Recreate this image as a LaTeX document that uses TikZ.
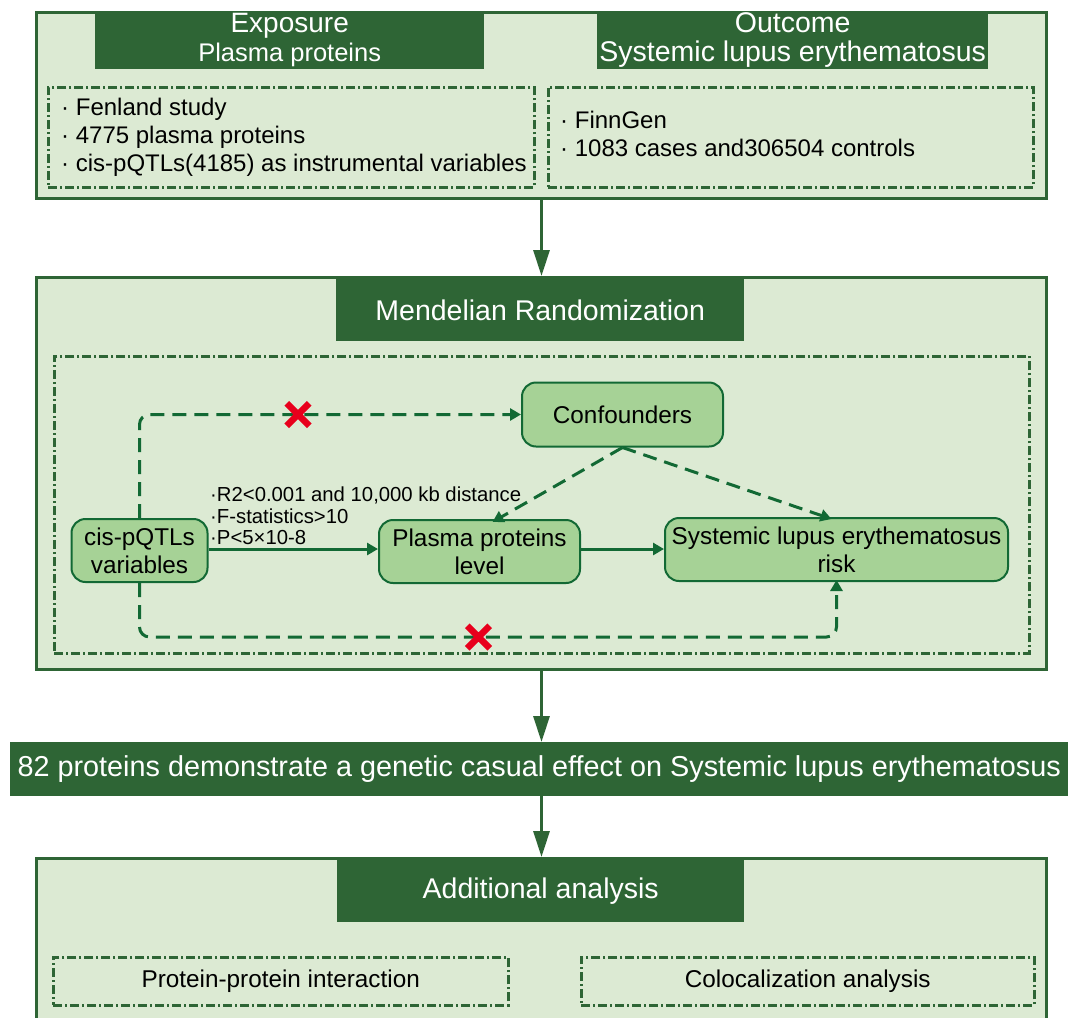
\documentclass[tikz,border=0pt]{standalone}
\usepackage{fontspec}
\setmainfont{Liberation Sans}
\usetikzlibrary{arrows.meta, shapes.misc, positioning}

\definecolor{headgreen}{HTML}{2E6535}
\definecolor{panelgreen}{HTML}{DCEAD3}
\definecolor{boxgreen}{HTML}{A6D296}
\definecolor{linkgreen}{HTML}{126934}
\definecolor{crossred}{HTML}{E8001C}

\newcommand{\fs}[1]{\fontsize{#1}{1.2\dimexpr#1pt\relax}\selectfont}

\tikzstyle{panel} = [draw=headgreen, fill=panelgreen, line width=3pt, minimum width=1010pt, anchor=north west, inner sep=0pt]
\tikzstyle{header} = [fill=headgreen, text=white, inner sep=0pt, align=center, anchor=north west]
\tikzstyle{dotbox} = [draw=headgreen, line width=2.5pt, dash pattern=on 9pt off 3pt on 2pt off 3pt, anchor=north west, inner sep=0pt]
\tikzstyle{factor} = [draw=linkgreen, fill=boxgreen, rounded corners=14pt, line width=2pt, align=center, inner sep=0pt, font=\fs{24.3}]
\tikzstyle{mainflow} = [draw=headgreen, line width=3pt, -{Triangle[length=26pt, width=16pt]}]
\tikzstyle{link} = [draw=linkgreen, line width=3pt, -{Triangle[length=11pt, width=12pt]}]
\tikzstyle{blocked} = [link, dash pattern=on 14pt off 8pt, rounded corners=10pt]
\tikzstyle{cutmark} = [cross out, draw=crossred, line width=6.5pt, minimum size=16pt, inner sep=0pt]

\begin{document}
\begin{tikzpicture}[x=1pt, y=-1pt]
    \clip (0,0) rectangle (1078,1017);
    \fill[white] (0,0) rectangle (1078,1017);

    % data sources
    \node[panel, minimum height=186pt] (data) at (35,11) {};
    \node[header, minimum width=389pt, minimum height=58pt, font=\fs{28}] (exphead) at (95,11) {Exposure\\[-4pt]{\fs{25.5}Plasma proteins}};
    \node[header, minimum width=391pt, minimum height=58pt, font=\fs{28.5}] (outhead) at (597,11) {Outcome\\[-5pt]{\fs{28.5}Systemic lupus erythematosus}};
    \node[dotbox, minimum width=486pt, minimum height=100pt] (expbox) at (47,86) {};
    \node[dotbox, minimum width=485pt, minimum height=100pt] (outbox) at (547,86) {};
    \node[anchor=west, align=left, inner sep=0pt, font=\fs{24}] (exptext) at ([xshift=14pt]expbox.west) {· Fenland study\\[-0.5pt] · 4775 plasma proteins\\[-0.5pt] · cis-pQTLs(4185) as instrumental variables};
    \node[anchor=west, align=left, inner sep=0pt, font=\fs{24}] (outtext) at ([xshift=13pt, yshift=3pt]outbox.west) {· FinnGen\\[-0.5pt] · 1083 cases and306504 controls};

    % MR panel
    \node[panel, minimum height=392pt] (mr) at (35,276) {};
    \node[header, minimum width=408pt, minimum height=62pt, font=\fs{28.5}] (mrhead) at (336,279) {Mendelian Randomization};
    \node[dotbox, minimum width=975pt, minimum height=297pt] (mrbox) at (53,355) {};

    \node[factor, minimum width=201pt, minimum height=64pt] (conf) at (622.5,414.5) {Confounders};
    \node[factor, minimum width=136pt, minimum height=63pt] (cis) at (139.5,550.5) {cis-pQTLs\\[-1pt]variables};
    \node[factor, minimum width=201pt, minimum height=63pt] (plasma) at (479.5,551.5) {Plasma proteins\\[-1pt]level};
    \node[factor, minimum width=343pt, minimum height=63pt] (sle) at (836.5,549.5) {Systemic lupus erythematosus\\[-1pt]risk};
    \node[anchor=south west, align=left, inner sep=0pt, font=\fs{20.3}] (rules) at (210,545) {·R2<0.001 and 10,000 kb distance\\[-3pt]·F-statistics>10\\[-3pt]·P<5×10-8};

    \coordinate (upper) at (298,414.5);
    \coordinate (lower) at (478.5,637);
    \draw[blocked] (cis.north) |- (conf.west);
    \draw[blocked] (cis.south) -- (cis.south |- lower) -- (sle.south |- lower) -- ([yshift=2pt]sle.south);
    \node[cutmark] (cut1) at (upper) {};
    \node[cutmark] (cut2) at (lower) {};

    \draw[link, dash pattern=on 14pt off 8pt] (conf.south) -- ([xshift=13pt, yshift=-3pt]plasma.north);
    \draw[link, dash pattern=on 14pt off 8pt] (conf.south) -- ([xshift=-5pt, yshift=-2pt]sle.north);
    \draw[link] (cis.east |- 0,549) -- (plasma.west |- 0,549);
    \draw[link] (plasma.east |- 0,549) -- (sle.west |- 0,549);

    % result
    \node[fill=headgreen, text=white, minimum width=1058pt, minimum height=54pt, inner sep=0pt, anchor=north west, font=\fs{28.8}] (result) at (10,742) {82 proteins demonstrate a genetic casual effect on Systemic lupus erythematosus};

    % additional analysis
    \node[panel, minimum height=180pt] (extra) at (35,857) {};
    \node[header, minimum width=407pt, minimum height=62pt, font=\fs{28.5}] (extrahead) at (337,860) {Additional analysis};
    \node[dotbox, minimum width=455pt, minimum height=48pt, font=\fs{24.3}] (ppi) at (52,956) {Protein-protein interaction};
    \node[dotbox, minimum width=453pt, minimum height=48pt, font=\fs{24.3}] (coloc) at (580,956) {Colocalization analysis};

    \draw[mainflow] (data.south) -- (mr.north);
    \draw[mainflow] (mr.south) -- (result.north -| mr.south);
    \draw[mainflow] (result.south -| extra.north) -- (extra.north);
\end{tikzpicture}
\end{document}
